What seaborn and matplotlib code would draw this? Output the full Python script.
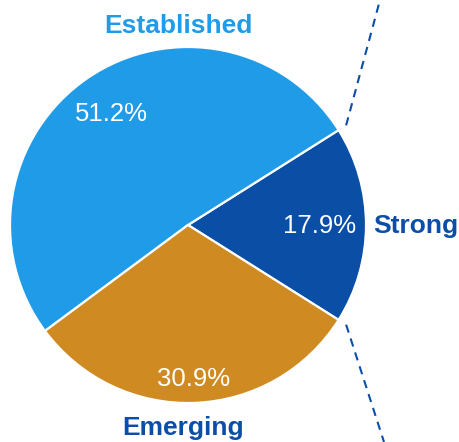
import numpy as np
import matplotlib
matplotlib.use("Agg")
import matplotlib.pyplot as plt
import seaborn as sns

# data
categories = ["Strong", "Established", "Emerging"]
shares = [17.9, 51.2, 30.9]
slice_colors = ["#0a4ea6", "#1f9be8", "#cf8a22"]
label_colors = ["#0b4ea8", "#1f9be8", "#0b4ea8"]

sns.set_theme(style="white")
plt.rcParams["font.family"] = ["Liberation Sans", "DejaVu Sans"]

fig = plt.figure(figsize=(4.59, 4.42), dpi=100)
ax = fig.add_axes([0, 0, 1, 1])

cx, cy, r = 188, 217, 178
start = -shares[0] / 100 * 360 / 2

wedges, _, autotexts = ax.pie(
    shares, colors=slice_colors, startangle=start, counterclock=True,
    center=(cx, cy), radius=r, autopct="%.1f%%", pctdistance=0.76,
    wedgeprops=dict(edgecolor="white", linewidth=1.6),
    textprops=dict(color="white", fontsize=18.5), frame=True,
)
ax.set_xlim(0, 459)
ax.set_ylim(0, 442)
ax.set_aspect("equal")
ax.axis("off")

# nudge percentage labels along their radii
pct_dist = [0.74, 0.76, 0.86]
for w, t, d in zip(wedges, autotexts, pct_dist):
    mid = np.deg2rad((w.theta1 + w.theta2) / 2)
    t.set_position((cx + d * r * np.cos(mid), cy + d * r * np.sin(mid) - 1))

# category labels
ax.text(cx + 185, cy - 1, categories[0], color=label_colors[0], fontsize=19,
        fontweight="bold", ha="left", va="center")
ax.text(cx - 10, cy + 199, categories[1], color=label_colors[1], fontsize=19,
        fontweight="bold", ha="center", va="center")
ax.text(cx - 5, cy - 203, categories[2], color=label_colors[2], fontsize=19,
        fontweight="bold", ha="center", va="center")

# dashed connectors from the Strong slice edges
for ang, end in [(wedges[0].theta2, (380, 442)), (wedges[0].theta1, (384, 0))]:
    a = np.deg2rad(ang)
    x0 = cx + 1.05 * r * np.cos(a)
    y0 = cy + 1.05 * r * np.sin(a)
    ax.plot([x0, end[0]], [y0, end[1]], color="#0b4ea8", linewidth=1.5,
            linestyle=(0, (4, 3)), clip_on=False)

fig.savefig("out.png", dpi=100)
